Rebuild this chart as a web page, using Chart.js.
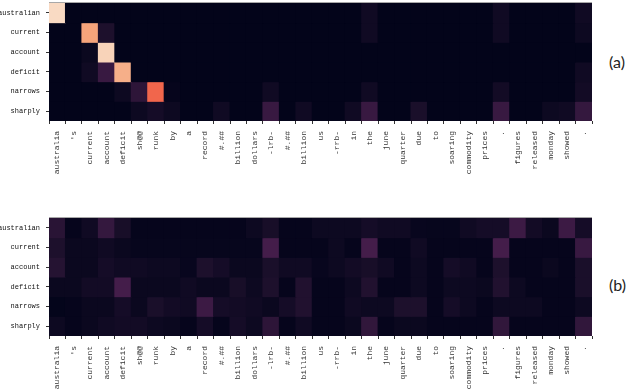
<!DOCTYPE html>
<html>
<head>
<meta charset="utf-8">
<script src="https://cdn.jsdelivr.net/npm/chart.js@4"></script>
<style>
  body { margin: 0; background: #fff; width: 626px; height: 390px; overflow: hidden; position: relative; }
  canvas { position: absolute; left: 0; }
  #chartA { top: 0; }
  #chartB { top: 215px; }
  .tag { position: absolute; left: 609px; font: 16px Lato, sans-serif; color: #222; }
</style>
</head>
<body>
<canvas id="chartA" width="600" height="185"></canvas>
<canvas id="chartB" width="600" height="175"></canvas>
<div class="tag" style="top:52px">(a)</div>
<div class="tag" style="top:275px">(b)</div>
<script>
const sourceTokens = ["australia", "'s", "current", "account", "deficit", "sh@@", "runk", "by", "a", "record",
    "#.##", "billion", "dollars", "-lrb-", "#.##", "billion", "us", "-rrb-", "in", "the", "june", "quarter",
    "due", "to", "soaring", "commodity", "prices", ".", "figures", "released", "monday", "showed", "."];
const targetTokens = ["australian", "current", "account", "deficit", "narrows", "sharply"];

// attention weights, one row per target word
const weightsA = [
    [.95,0,0,0,0,0,0,0,0,0,0,0,0,0,0,0,0,0,0,.05,0,0,0,0,0,0,0,.05,0,0,0,0,.05],
    [0,0,.8,.1,0,0,0,0,0,0,0,0,0,0,0,0,0,0,0,.05,0,0,0,0,0,0,0,.05,0,0,0,0,.04],
    [0,0,.03,.93,0,0,0,0,0,0,0,0,0,0,0,0,0,0,0,0,0,0,0,0,0,0,0,0,0,0,0,0,0],
    [0,0,.05,.17,.83,0,0,0,0,0,0,0,0,0,0,0,0,0,0,0,0,0,0,0,0,0,0,0,0,0,0,0,.05],
    [0,0,0,0,.04,.14,.68,.01,0,0,0,0,0,.05,0,0,0,0,0,.05,0,0,0,0,0,0,0,.06,0,0,0,0,.06],
    [0,0,0,0,0,.04,.07,.04,0,0,.05,0,0,.17,0,.05,0,0,.05,.17,0,0,.09,0,0,0,0,.17,0,0,.04,.05,.16]
];
const weightsB = [
    [.13,.01,.05,.16,.08,.01,.01,.01,.01,.01,.01,.01,.04,.08,.01,.01,.04,.04,.04,.07,.05,.05,.02,.015,.015,.05,.07,.07,.18,.06,.03,.18,.07],
    [.1,.03,.03,.05,.03,.015,.015,.015,.015,.015,.015,.015,.015,.2,.01,.01,.01,.04,.01,.2,.01,.01,.05,.01,.01,.01,.01,.2,.01,.01,.01,.01,.17],
    [.12,.03,.03,.07,.05,.05,.04,.04,.02,.1,.07,.03,.03,.09,.05,.05,.02,.04,.06,.08,.05,.01,.04,.01,.07,.05,.01,.1,.01,.01,.03,.01,.09],
    [.03,.03,.06,.06,.2,.03,.03,.03,.05,.03,.03,.08,.04,.1,.01,.11,.01,.01,.04,.11,.01,.01,.04,.01,.04,.04,.03,.11,.04,.01,.01,.01,.09],
    [.005,.01,.03,.03,.07,.03,.09,.06,.05,.18,.07,.06,.05,.03,.07,.11,.01,.01,.05,.04,.04,.1,.1,.01,.07,.04,.01,.04,.04,.04,.01,.01,.04],
    [.04,.01,.03,.05,.06,.06,.04,.03,.01,.07,.01,.07,.04,.14,.01,.05,.01,.01,.03,.15,.01,.03,.03,.01,.01,.01,.01,.15,.01,.01,.01,.01,.15]
];

// rocket colormap stops, low end darkened a bit to match the picture
const rocket = [[3,4,26],[29,16,44],[68,29,74],[112,31,87],[161,26,91],[203,27,79],[232,63,63],[243,112,79],[246,164,123],[247,201,169],[250,235,221]];

function cellColor(v) {
    const pos = Math.min(v, 1) * (rocket.length - 1);
    const i = Math.min(Math.floor(pos), rocket.length - 2);
    const t = pos - i;
    const c = rocket[i].map((ch, k) => Math.round(ch + (rocket[i + 1][k] - ch) * t));
    return `rgb(${c[0]},${c[1]},${c[2]})`;
}

const frame = {
    id: "frame",
    // dark base under the cells so no seams show between them
    beforeDatasetsDraw(chart) {
        const { ctx, chartArea } = chart;
        ctx.fillStyle = cellColor(0);
        ctx.fillRect(chartArea.left, chartArea.top, chartArea.width, chartArea.height);
    },
    afterDraw(chart) {
        const { ctx, chartArea } = chart;
        ctx.fillStyle = "#a8a8a8";
        ctx.fillRect(chartArea.left, chartArea.top - 1, chartArea.width, 1);
    }
};

function heatmap(id, weights, topPad, axisHeight) {
    new Chart(document.getElementById(id), {
        type: "bar",
        data: {
            labels: sourceTokens,
            datasets: weights.map((row, r) => ({
                label: targetTokens[r],
                data: row.map(() => [r, r + 1]),
                backgroundColor: row.map(cellColor),
                borderWidth: 0,
                inflateAmount: 0.5,
                categoryPercentage: 1,
                barPercentage: 1,
                grouped: false
            }))
        },
        options: {
            responsive: false,
            animation: false,
            layout: { padding: { top: topPad, right: 8, left: 0, bottom: 0 } },
            plugins: { legend: { display: false }, tooltip: { enabled: false } },
            scales: {
                x: {
                    afterFit: (s) => { s.height = axisHeight; s.paddingLeft = 0; s.paddingRight = 0; },
                    grid: { drawOnChartArea: false, tickLength: 3, color: "#333" },
                    border: { display: false },
                    ticks: {
                        autoSkip: false, maxRotation: 90, minRotation: 90, padding: 7,
                        color: "#333", font: { family: "Liberation Mono", size: 8 }
                    }
                },
                y: {
                    reverse: true, min: 0, max: 6,
                    afterFit: (s) => { s.width = 49; s.paddingTop = 0; s.paddingBottom = 0; },
                    afterBuildTicks: (s) => { s.ticks = targetTokens.map((_, i) => ({ value: i + 0.5 })); },
                    grid: { drawOnChartArea: false, tickLength: 3, color: "#333" },
                    border: { display: false },
                    ticks: {
                        padding: 6, color: "#111", font: { family: "Liberation Mono", size: 7 },
                        callback: (v) => targetTokens[v - 0.5]
                    }
                }
            }
        },
        plugins: [frame]
    });
}

heatmap("chartA", weightsA, 3, 64);
heatmap("chartB", weightsB, 3, 54);
</script>
</body>
</html>
